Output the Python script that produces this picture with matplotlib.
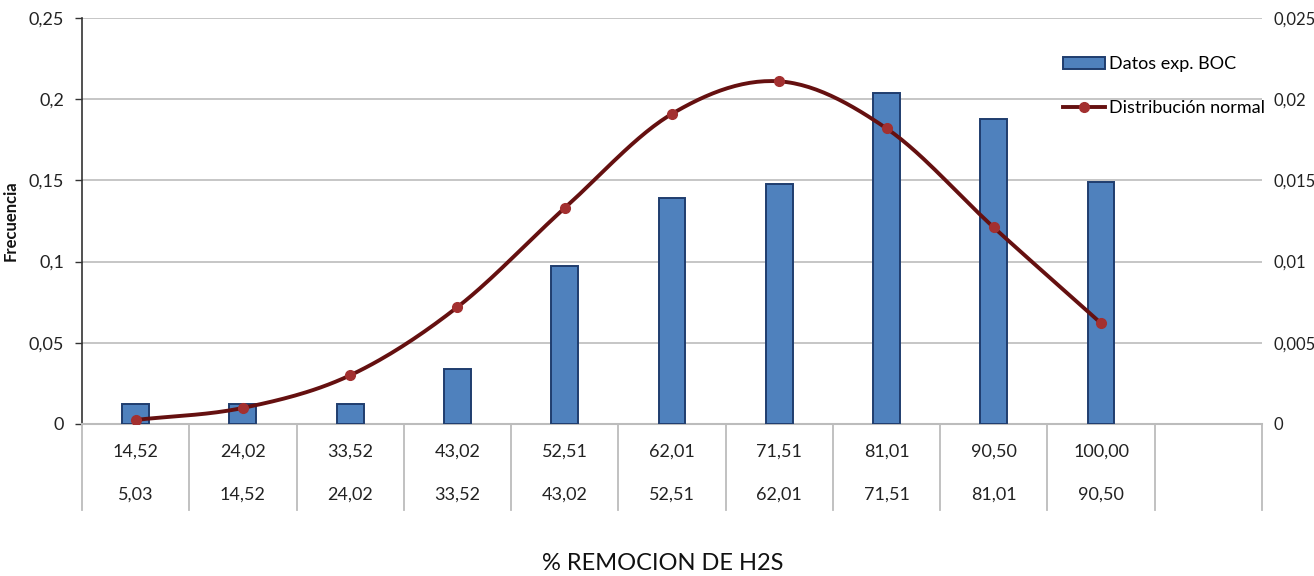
import numpy as np
import matplotlib.pyplot as plt
import matplotlib.transforms as mtransforms
from matplotlib.lines import Line2D
from matplotlib.patches import Patch

# datos
limite_sup = ["14,52", "24,02", "33,52", "43,02", "52,51", "62,01", "71,51", "81,01", "90,50", "100,00", ""]
limite_inf = ["5,03", "14,52", "24,02", "33,52", "43,02", "52,51", "62,01", "71,51", "81,01", "90,50", ""]
frecuencia = [0.0125, 0.0125, 0.0125, 0.034, 0.097, 0.139, 0.148, 0.204, 0.188, 0.149]
dist_normal = [0.00025, 0.00099, 0.0030, 0.0072, 0.0133, 0.0191, 0.0211, 0.0182, 0.0121, 0.0062]

left_ticks = [0, 0.05, 0.1, 0.15, 0.2, 0.25]
left_labels = ["0", "0,05", "0,1", "0,15", "0,2", "0,25"]
right_ticks = [0, 0.005, 0.01, 0.015, 0.02, 0.025]
right_labels = ["0", "0,005", "0,01", "0,015", "0,02", "0,025"]

plt.rcParams['font.family'] = ['Lato', 'DejaVu Sans']

COLOR_BARRA = '#4f81bd'
BORDE_BARRA = '#1f3d6e'
COLOR_LINEA = '#651010'
COLOR_MARCA = '#a33030'
GRIS = '#bcbcbc'
TXT = '#222222'


def catmull_rom(x, y, n=30):
    # curva suavizada (como la linea suavizada de Excel)
    x = np.asarray(x, float)
    y = np.asarray(y, float)
    px = np.concatenate([[2 * x[0] - x[1]], x, [2 * x[-1] - x[-2]]])
    py = np.concatenate([[2 * y[0] - y[1]], y, [2 * y[-1] - y[-2]]])
    xs, ys = [], []
    t = np.linspace(0, 1, n)
    for i in range(1, len(px) - 2):
        for p, out in ((px, xs), (py, ys)):
            p0, p1, p2, p3 = p[i - 1], p[i], p[i + 1], p[i + 2]
            out.extend(0.5 * ((2 * p1) + (-p0 + p2) * t +
                              (2 * p0 - 5 * p1 + 4 * p2 - p3) * t ** 2 +
                              (-p0 + 3 * p1 - 3 * p2 + p3) * t ** 3))
    return np.array(xs), np.array(ys)


fig = plt.figure(figsize=(13.14, 5.76), dpi=100)
ax = fig.add_axes([82 / 1314, 1 - 424 / 576, 1180 / 1314, 406 / 576])
ax2 = ax.twinx()

x = np.arange(len(frecuencia))
ax.bar(x, frecuencia, width=0.25, color=COLOR_BARRA, edgecolor=BORDE_BARRA,
       linewidth=1.4, zorder=3)

ax.set_xlim(-0.5, len(limite_sup) - 0.5)
ax.set_ylim(0, 0.25)
ax.set_yticks(left_ticks)
ax.set_yticklabels(left_labels, fontsize=13, color=TXT)
ax.set_xticks([])
for yv in left_ticks[1:]:
    ax.axhline(yv, color=GRIS, lw=1.2, zorder=1)
ax.tick_params(axis='y', direction='out', length=5, width=1, pad=8, color='#333333')
ax.spines['left'].set_color('#333333')
ax.spines['left'].set_linewidth(1.2)
ax.spines['bottom'].set_color(GRIS)
ax.spines['bottom'].set_linewidth(1.5)
ax.spines['top'].set_visible(False)
ax.spines['right'].set_visible(False)

# tabla de categorias debajo del eje
trans = mtransforms.blended_transform_factory(ax.transData, ax.transAxes)
for xb in np.arange(-0.5, len(limite_sup), 1.0):
    ax.plot([xb, xb], [0, -86 / 406], color=GRIS, lw=1.3, transform=trans, clip_on=False)
for i, (a, b) in enumerate(zip(limite_sup, limite_inf)):
    ax.text(i, -28 / 406, a, transform=trans, ha='center', va='center', fontsize=13, color=TXT)
    ax.text(i, -71 / 406, b, transform=trans, ha='center', va='center', fontsize=13, color=TXT)

ax.set_ylabel('Frecuencia', fontsize=12, fontweight='bold', color='#111111')
ax.yaxis.set_label_coords(-63 / 1180, 0.5)
fig.text(663 / 1314, 1 - 563 / 576, '% REMOCION DE H2S', ha='center', va='center', fontsize=17, color='#111111')

# eje secundario: distribucion normal
xs, ys = catmull_rom(x, dist_normal)
ax2.plot(xs, ys, color=COLOR_LINEA, lw=2.8, zorder=4)
ax2.plot(x, dist_normal, 'o', color=COLOR_MARCA, ms=7, zorder=5)
ax2.set_ylim(0, 0.025)
ax2.set_yticks(right_ticks)
ax2.set_yticklabels(right_labels, fontsize=12, color=TXT)
ax2.tick_params(axis='y', length=0, pad=8)
for s in ax2.spines.values():
    s.set_visible(False)

handles = [Patch(facecolor=COLOR_BARRA, edgecolor=BORDE_BARRA, linewidth=1.4),
           Line2D([], [], color=COLOR_LINEA, lw=2.8, marker='o', ms=7,
                  markerfacecolor=COLOR_MARCA, markeredgecolor=COLOR_MARCA)]
fig.legend(handles, ['Datos exp. BOC', 'Distribución normal'], loc='upper left',
           bbox_to_anchor=(1047 / 1314, 1 - 40 / 576), frameon=False, fontsize=13,
           handlelength=2.3, handleheight=0.6, handletextpad=0.25, labelspacing=1.55)

fig.savefig('out.png', dpi=100)
